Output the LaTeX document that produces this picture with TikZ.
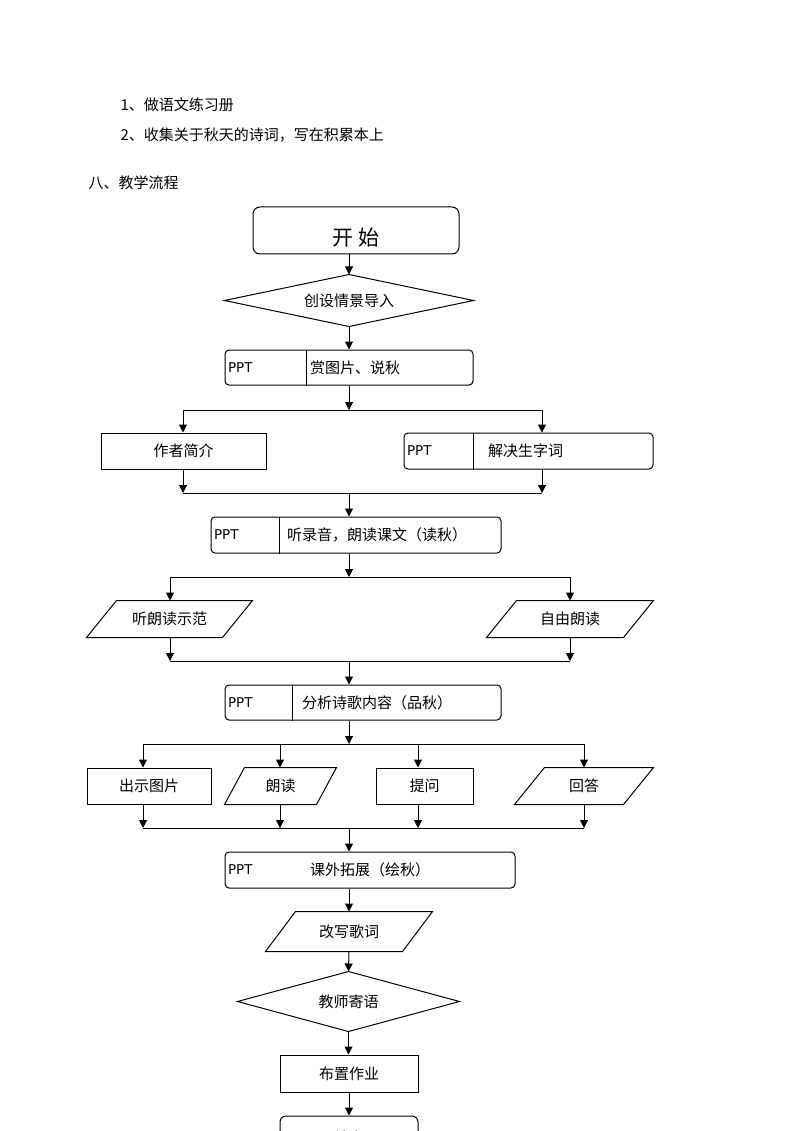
\documentclass[tikz,border=0pt]{standalone}
\usepackage{fontspec}
\setmainfont{Noto Sans CJK SC}
\newfontfamily\pptfont{DejaVu Sans}
\usetikzlibrary{arrows.meta,calc}
\begin{document}
\begin{tikzpicture}[x=1pt,y=-1pt,line width=1pt,
  arr/.style={-{Triangle[length=8pt,width=8pt]}},
  txt/.style={font=\fontsize{15}{18}\selectfont, inner sep=0pt},
  ppttxt/.style={font=\pptfont\fontsize{13.5}{15}\selectfont, inner sep=0pt, anchor=west},
  frame/.style={draw, rectangle, inner sep=0pt, font=\fontsize{15}{18}\selectfont},
  pptbox/.style={draw, rectangle, rounded corners=4pt, inner sep=0pt},
  ghost/.style={rectangle, inner sep=0pt, font=\fontsize{15}{18}\selectfont}]
\useasboundingbox (0,0) rectangle (800,1131);
\fill[white] (0,0) rectangle (800,1131);
\clip (0,0) rectangle (800,1131);

% header text
\node[txt, anchor=west] (h1) at (120,105) {1、做语文练习册};
\node[txt, anchor=west] (h2) at (120,135) {2、收集关于秋天的诗词，写在积累本上};
\node[txt, anchor=west] (h3) at (88,183) {八、教学流程};

% start
\node[pptbox, rounded corners=7pt, minimum width=206pt, minimum height=47pt] (start) at (356,230.5) {};
\node[inner sep=0pt, font=\fontsize{21}{24}\selectfont] (starttxt) at (356,238) {开\ 始};

% diamond 1
\node[ghost, minimum width=248pt, minimum height=51pt] (d1) at (349,300.5) {创设情景导入};
\draw (d1.west) -- (d1.north) -- (d1.east) -- (d1.south) -- cycle;

% PPT 1
\node[pptbox, minimum width=248pt, minimum height=35pt] (p1) at (349,367.5) {};
\draw ([xshift=82pt]p1.north west) -- ([xshift=82pt]p1.south west);
\node[ppttxt] (p1a) at ([xshift=3pt]p1.west) {PPT};
\node[txt, anchor=west] (p1b) at ([xshift=85pt]p1.west) {赏图片、说秋};

% row 2
\node[frame, minimum width=165pt, minimum height=36pt] (zz) at (183.5,451) {作者简介};
\node[pptbox, minimum width=249pt, minimum height=36pt] (p2) at (528.5,451) {};
\draw ([xshift=70pt]p2.north west) -- ([xshift=70pt]p2.south west);
\node[ppttxt] (p2a) at ([xshift=3pt]p2.west) {PPT};
\node[txt, anchor=west] (p2b) at ([xshift=84pt]p2.west) {解决生字词};

% PPT 3
\node[pptbox, minimum width=290pt, minimum height=36pt] (p3) at (356,535) {};
\draw ([xshift=69pt]p3.north west) -- ([xshift=69pt]p3.south west);
\node[ppttxt] (p3a) at ([xshift=3pt]p3.west) {PPT};
\node[txt, anchor=west] (p3b) at ([xshift=76pt]p3.west) {听录音，朗读课文（读秋）};

% parallelograms row
\node[ghost, minimum width=165pt, minimum height=36pt] (q1) at (169.5,619) {听朗读示范};
\draw (q1.south west) -- ($(q1.north west)+(30,0)$) -- (q1.north east) -- ($(q1.south east)-(30,0)$) -- cycle;
\node[ghost, minimum width=166pt, minimum height=36pt] (q2) at (570,619) {自由朗读};
\draw (q2.south west) -- ($(q2.north west)+(30,0)$) -- (q2.north east) -- ($(q2.south east)-(30,0)$) -- cycle;

% PPT 4
\node[pptbox, minimum width=276pt, minimum height=35pt] (p4) at (363,702.5) {};
\draw ([xshift=68pt]p4.north west) -- ([xshift=68pt]p4.south west);
\node[ppttxt] (p4a) at ([xshift=3pt]p4.west) {PPT};
\node[txt, anchor=west] (p4b) at ([xshift=77pt]p4.west) {分析诗歌内容（品秋）};

% four boxes
\node[frame, minimum width=124pt, minimum height=36pt] (r1) at (149,786) {出示图片};
\node[ghost, minimum width=111pt, minimum height=36pt] (r2) at (280.5,786) {朗读};
\draw (r2.south west) -- ($(r2.north west)+(20,0)$) -- (r2.north east) -- ($(r2.south east)-(20,0)$) -- cycle;
\node[frame, minimum width=97pt, minimum height=36pt] (r3) at (424.5,786) {提问};
\node[ghost, minimum width=138pt, minimum height=36pt] (r4) at (584,786) {回答};
\draw (r4.south west) -- ($(r4.north west)+(30,0)$) -- (r4.north east) -- ($(r4.south east)-(30,0)$) -- cycle;

% PPT 5
\node[pptbox, minimum width=290pt, minimum height=36pt] (p5) at (370,870) {};
\node[ppttxt] (p5a) at ([xshift=3pt]p5.west) {PPT};
\node[txt] (p5b) at (p5.center) {课外拓展（绘秋）};

% rewrite
\node[ghost, minimum width=166pt, minimum height=39pt] (q3) at (349,931.5) {改写歌词};
\draw (q3.south west) -- ($(q3.north west)+(30,0)$) -- (q3.north east) -- ($(q3.south east)-(30,0)$) -- cycle;

% diamond 2
\node[ghost, minimum width=221pt, minimum height=59pt] (d2) at (348.5,1001.5) {教师寄语};
\draw (d2.west) -- (d2.north) -- (d2.east) -- (d2.south) -- cycle;

% homework
\node[frame, minimum width=138pt, minimum height=37pt] (hw) at (349,1073.5) {布置作业};

% end
\node[pptbox, rounded corners=6pt, minimum width=138pt, minimum height=44pt, font=\fontsize{15}{18}\selectfont] (end) at (349,1138) {结束};

% junction coordinates
\coordinate (j1) at (349,410);  \coordinate (j1l) at (183,410); \coordinate (j1r) at (542,410);
\coordinate (j2) at (349,493);  \coordinate (j2l) at (183,493); \coordinate (j2r) at (542,493);
\coordinate (j3) at (349,577);  \coordinate (j3l) at (170,577); \coordinate (j3r) at (570,577);
\coordinate (j4) at (349,661);  \coordinate (j4l) at (170,661); \coordinate (j4r) at (570,661);
\coordinate (j5) at (349,744);  \coordinate (j5a) at (143,744); \coordinate (j5b) at (280,744);
\coordinate (j5c) at (418,744); \coordinate (j5d) at (584,744);
\coordinate (j6) at (349,828);  \coordinate (j6a) at (143,828); \coordinate (j6b) at (280,828);
\coordinate (j6c) at (418,828); \coordinate (j6d) at (584,828);

% connectors
\draw[arr] (start.south -| d1.north) -- (d1.north);
\draw[arr] (d1.south) -- (d1.south |- p1.north);
\draw[arr] (p1.south -| j1) -- (j1);
\draw (j1l) -- (j1r);
\draw[arr] (j1l) -- (j1l |- zz.north);
\draw[arr] (j1r) -- (j1r |- p2.north);
\draw[arr] (j2l |- zz.south) -- (j2l);
\draw[arr] (j2r |- p2.south) -- (j2r);
\draw (j2l) -- (j2r);
\draw[arr] (j2) -- (j2 |- p3.north);
\draw[arr] (j3 |- p3.south) -- (j3);
\draw (j3l) -- (j3r);
\draw[arr] (j3l) -- (j3l |- q1.north);
\draw[arr] (j3r) -- (j3r |- q2.north);
\draw[arr] (j4l |- q1.south) -- (j4l);
\draw[arr] (j4r |- q2.south) -- (j4r);
\draw (j4l) -- (j4r);
\draw[arr] (j4) -- (j4 |- p4.north);
\draw[arr] (j5 |- p4.south) -- (j5);
\draw (j5a) -- (j5d);
\draw[arr] (j5a) -- (j5a |- r1.north);
\draw[arr] (j5b) -- (j5b |- r2.north);
\draw[arr] (j5c) -- (j5c |- r3.north);
\draw[arr] (j5d) -- (j5d |- r4.north);
\draw[arr] (j6a |- r1.south) -- (j6a);
\draw[arr] (j6b |- r2.south) -- (j6b);
\draw[arr] (j6c |- r3.south) -- (j6c);
\draw[arr] (j6d |- r4.south) -- (j6d);
\draw (j6a) -- (j6d);
\draw[arr] (j6) -- (j6 |- p5.north);
\draw[arr] (p5.south -| q3.north) -- (q3.north);
\draw[arr] (q3.south) -- (d2.north);
\draw[arr] (d2.south) -- (d2.south |- hw.north);
\draw[arr] (hw.south) -- (end.north);
\end{tikzpicture}
\end{document}
